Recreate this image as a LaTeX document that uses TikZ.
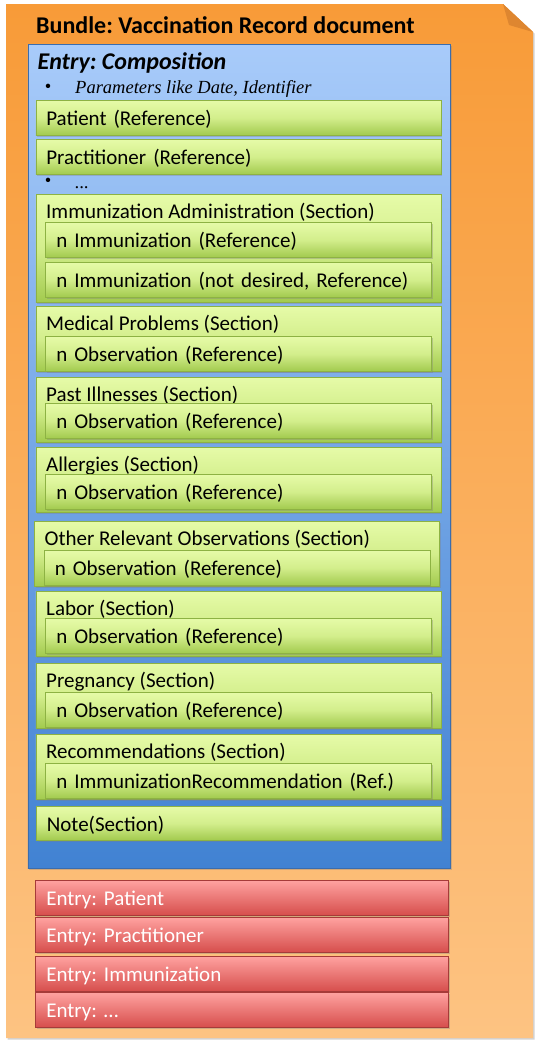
\documentclass[tikz,border=0pt]{standalone}
\usepackage{fontspec}
\setmainfont{Carlito}
\newfontfamily\timesfont{Liberation Serif}
\usetikzlibrary{shadows}
\frenchspacing

\definecolor{bundletop}{HTML}{F89B38}
\definecolor{bundlebot}{HTML}{FDC382}
\definecolor{foldcol}{HTML}{DE8630}
\definecolor{comptop}{HTML}{A8CBFA}
\definecolor{compbot}{HTML}{4182D2}
\definecolor{compline}{HTML}{3A6DAE}
\definecolor{greentop}{HTML}{E6FBA8}
\definecolor{greenmid}{HTML}{D3EE8C}
\definecolor{greenbot}{HTML}{A2CA4E}
\definecolor{greenline}{HTML}{8DB243}
\definecolor{redtop}{HTML}{FFA2A0}
\definecolor{redbot}{HTML}{D64E4C}
\definecolor{redline}{HTML}{A63B39}

\begin{document}
\begin{tikzpicture}[x=1pt, y=-1pt]
    \tikzstyle{boxshadow}=[drop shadow={shadow xshift=1.5pt, shadow yshift=-1.5pt, opacity=0.35}]
    \tikzstyle{greenbox}=[rectangle, draw=greenline, line width=0.6pt, top color=greentop, bottom color=greenbot, middle color=greenmid, boxshadow, anchor=north west, inner xsep=10.5pt, inner ysep=0pt, text width=384pt, align=left, minimum height=35pt, text height=19pt, text depth=3pt, font=\fontsize{21}{25}\selectfont]
    \tikzstyle{secbox}=[greenbox, minimum height=65pt]
    \tikzstyle{innerbox}=[greenbox, inner xsep=11pt, text width=364pt]
    \tikzstyle{redbox}=[rectangle, draw=redline, line width=0.6pt, top color=redtop, bottom color=redbot, boxshadow, anchor=north west, inner xsep=11pt, inner ysep=0pt, text width=391pt, align=left, minimum height=35pt, text height=19pt, text depth=3pt, text=white, font=\fontsize{21}{25}\selectfont]
    \tikzstyle{head}=[anchor=base west, inner sep=0pt, font=\fontsize{21}{25}\selectfont]
    \tikzstyle{bullet}=[inner sep=0pt, font=\timesfont\fontsize{18.5}{22}\selectfont]
    \tikzstyle{param}=[anchor=base west, inner sep=0pt, font=\timesfont\itshape\fontsize{18.5}{22}\selectfont]

    \path[use as bounding box] (0,0) rectangle (539,1047);

    % bundle sheet with folded corner
    \path[boxshadow, top color=bundletop, bottom color=bundlebot] (6,4) -- (503,4) -- (533,32) -- (533,1038) -- (6,1038) -- cycle;
    \fill[foldcol] (503,4) -- (509,25) -- (533,32) -- cycle;
    \node[anchor=base west, inner sep=0pt, font=\bfseries\fontsize{24}{29}\selectfont] (title) at (36,33) {Bundle: Vaccination Record document};

    % composition entry
    \node[rectangle, draw=compline, line width=0.6pt, top color=comptop, bottom color=compbot, boxshadow, anchor=north west, minimum width=422.5pt, minimum height=824pt] (comp) at (27.5,44) {};
    \node[anchor=base west, inner sep=0pt, font=\bfseries\itshape\fontsize{24}{28}\selectfont] (comptitle) at (37.5,69) {Entry: Composition};
    \node[bullet] (b1) at (48,88) {•};
    \node[param] (par) at (75,93) {Parameters like Date, Identifier};

    \node[greenbox] (pat) at (35.5,100) {Patient (Reference)};
    \node[greenbox] (prac) at (35.5,139) {Practitioner (Reference)};
    \node[bullet] (b2) at (48,182) {•};
    \node[param] (dots) at (75,188) {...};

    \node[secbox, minimum height=108pt] (S0) at (35.5,194) {};
    \node[head] (H0) at ([shift={(10.5,24.5)}]S0.north west) {Immunization Administration (Section)};
    \node[innerbox] (I01) at ([shift={(9.5,28)}]S0.north west) {n Immunization (Reference)};
    \node[innerbox] (I02) at ([shift={(9.5,68)}]S0.north west) {n Immunization (not desired, Reference)};

    \foreach \x/\y/\off/\hdr/\itm [count=\i] in {
        35.5/306/30/Medical Problems (Section)/n Observation (Reference),
        35.5/377/26/Past Illnesses (Section)/n Observation (Reference),
        35.5/447/27/Allergies (Section)/n Observation (Reference),
        34/521/29/Other Relevant Observations (Section)/n Observation (Reference),
        35.5/591/27/Labor (Section)/n Observation (Reference),
        35.5/663/29/Pregnancy (Section)/n Observation (Reference),
        35.5/734/29/Recommendations (Section)/n ImmunizationRecommendation (Ref.)}
    {
        \node[secbox] (S\i) at (\x,\y) {};
        \node[head] (H\i) at ([shift={(10.5,24.5)}]S\i.north west) {\hdr};
        \node[innerbox] (I\i) at ([shift={(9.5,\off)}]S\i.north west) {\itm};
    }

    \node[greenbox, minimum height=34pt] (note) at (36,806) {Note(Section)};

    % other entries
    \foreach \y/\t [count=\i] in {880/Patient, 917/Practitioner, 956/Immunization, 992/\ldots}
        \node[redbox] (E\i) at (35,\y) {Entry: \t};
\end{tikzpicture}
\end{document}
